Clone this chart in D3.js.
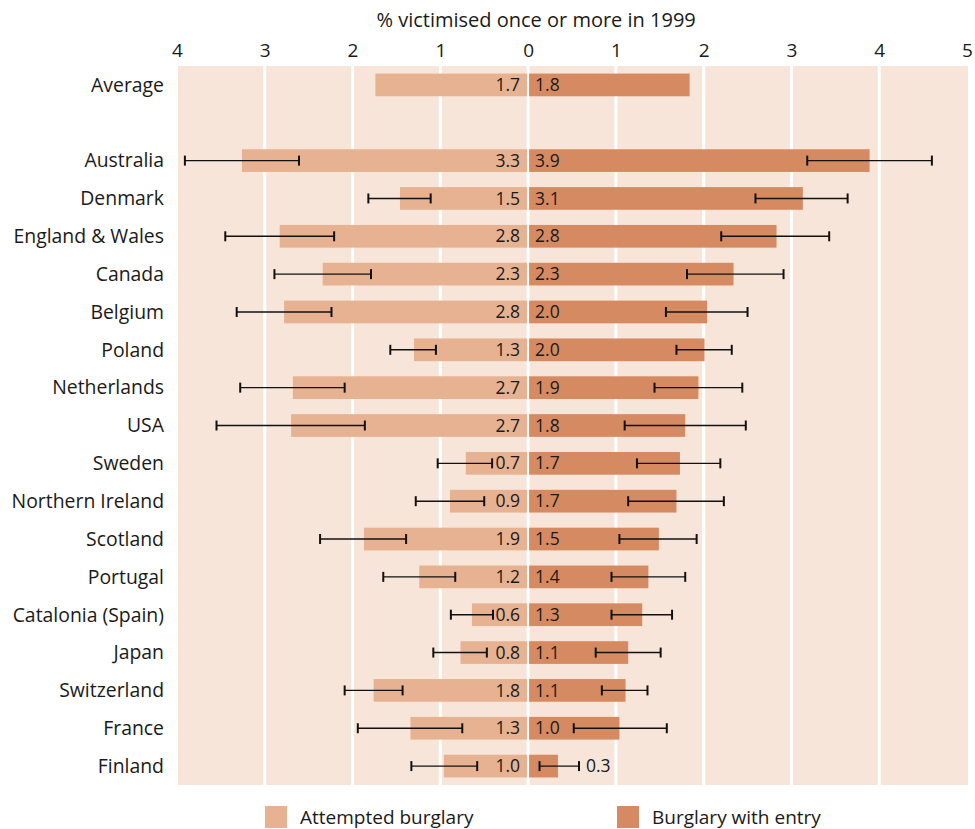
<!DOCTYPE html>
<html><head><meta charset="utf-8">
<script src="https://cdn.jsdelivr.net/npm/d3@7"></script>
<style>
body{margin:0;background:#fff;}
text{font-family:"Open Sans",sans-serif;fill:#1a1a1a;}
</style></head>
<body><svg id="c" width="975" height="829"></svg>
<script>
const categories = ["Average","","Australia","Denmark","England & Wales","Canada","Belgium","Poland","Netherlands","USA","Sweden","Northern Ireland","Scotland","Portugal","Catalonia (Spain)","Japan","Switzerland","France","Finland"];
const attempted = [1.74,null,3.26,1.46,2.83,2.34,2.78,1.30,2.68,2.70,0.71,0.89,1.87,1.24,0.64,0.77,1.76,1.34,0.96];
const attemptedLow = [null,null,2.61,1.11,2.21,1.79,2.24,1.05,2.09,1.86,0.41,0.50,1.39,0.83,0.40,0.47,1.43,0.75,0.58];
const attemptedHigh = [null,null,3.91,1.82,3.45,2.89,3.32,1.57,3.28,3.55,1.03,1.28,2.37,1.65,0.88,1.08,2.09,1.94,1.33];
const entry = [1.84,null,3.89,3.13,2.83,2.34,2.04,2.01,1.94,1.79,1.73,1.69,1.49,1.37,1.30,1.14,1.11,1.04,0.34];
const entryLow = [null,null,3.18,2.59,2.20,1.81,1.57,1.69,1.44,1.10,1.24,1.14,1.04,0.95,0.95,0.77,0.84,0.52,0.13];
const entryHigh = [null,null,4.60,3.64,3.43,2.91,2.50,2.32,2.44,2.48,2.19,2.23,1.92,1.79,1.64,1.51,1.36,1.58,0.58];
const tickValues = [-4,-3,-2,-1,0,1,2,3,4,5];
const axisTitle = "% victimised once or more in 1999";
const seriesNames = ["Attempted burglary","Burglary with entry"];
const colors = {attempted:"#e6b292", entry:"#d68a62", panel:"#f7e5d9"};

const svg = d3.select("#c");
const x = d3.scaleLinear().domain([-4,5]).range([177,967]);
const y = d3.scaleBand().domain(d3.range(categories.length)).range([66,785]).paddingInner(0.4).paddingOuter(0.2);
const fmt = d3.format(".1f");

svg.append("rect").attr("x",x(-4)+1).attr("y",66).attr("width",x(5)-x(-4)).attr("height",785-66).attr("fill",colors.panel);
svg.append("g").selectAll("line").data(tickValues.slice(1,-1)).join("line")
  .attr("x1",d=>x(d)).attr("x2",d=>x(d)).attr("y1",66).attr("y2",785)
  .attr("stroke","#fff").attr("stroke-width",3);

const axis = d3.axisTop(x).tickValues(tickValues).tickFormat(d=>Math.abs(d)).tickSize(0).tickPadding(0);
const ag = svg.append("g").attr("transform","translate(0,57)").call(axis);
ag.select(".domain").remove();
ag.selectAll("text").style("font-size","19px").attr("fill","#1a1a1a").style("font-family","'Open Sans',sans-serif");

svg.append("text").attr("x",x(0)+8).attr("y",27).attr("text-anchor","middle").style("font-size","20px").text(axisTitle);

const rows = categories.map((c,i)=>({c,i,a:attempted[i],al:attemptedLow[i],ah:attemptedHigh[i],e:entry[i],el:entryLow[i],eh:entryHigh[i]})).filter(d=>d.c!=="");
const bh = y.bandwidth();

const g = svg.append("g");
g.selectAll(".ab").data(rows).join("rect")
  .attr("x",d=>x(-d.a)).attr("y",d=>y(d.i)).attr("width",d=>x(0)-1-x(-d.a)).attr("height",bh).attr("fill",colors.attempted);
g.selectAll(".eb").data(rows).join("rect")
  .attr("x",x(0)+1).attr("y",d=>y(d.i)).attr("width",d=>x(d.e)-x(0)-1).attr("height",bh).attr("fill",colors.entry);

const err = rows.filter(d=>d.al!=null);
const eg = svg.append("g").attr("stroke","#111").attr("stroke-width",1.4);
function errorBars(lo,hi,sign){
  err.forEach(d=>{
    const cy = y(d.i)+bh/2;
    const x1 = x(sign*d[lo]), x2 = x(sign*d[hi]);
    eg.append("line").attr("x1",x1).attr("x2",x2).attr("y1",cy).attr("y2",cy);
    eg.append("line").attr("x1",x1).attr("x2",x1).attr("y1",cy-5).attr("y2",cy+5).attr("stroke-width",2);
    eg.append("line").attr("x1",x2).attr("x2",x2).attr("y1",cy-5).attr("y2",cy+5).attr("stroke-width",2);
  });
}
errorBars("al","ah",-1);
errorBars("el","eh",1);

const lg = svg.append("g").style("font-size","17.5px");
lg.selectAll(".al").data(rows).join("text")
  .attr("x",x(0)-8).attr("y",d=>y(d.i)+bh/2).attr("dy","0.35em").attr("text-anchor","end").text(d=>fmt(d.a));
lg.selectAll(".el").data(rows).join("text")
  .attr("x",d=> d.e<0.5 ? x(d.eh)+7 : x(0)+7).attr("y",d=>y(d.i)+bh/2).attr("dy","0.35em").text(d=>fmt(d.e));

svg.append("g").selectAll("text").data(rows).join("text")
  .attr("x",164).attr("y",d=>y(d.i)+bh/2).attr("dy","0.35em").attr("text-anchor","end")
  .style("font-size","19.4px").text(d=>d.c);

const leg = svg.append("g");
const legX = [265,617];
seriesNames.forEach((n,k)=>{
  leg.append("rect").attr("x",legX[k]).attr("y",806).attr("width",22).attr("height",22).attr("fill",k?colors.entry:colors.attempted);
  leg.append("text").attr("x",legX[k]+35).attr("y",817).attr("dy","0.35em").style("font-size","19px").text(n);
});
</script></body></html>
